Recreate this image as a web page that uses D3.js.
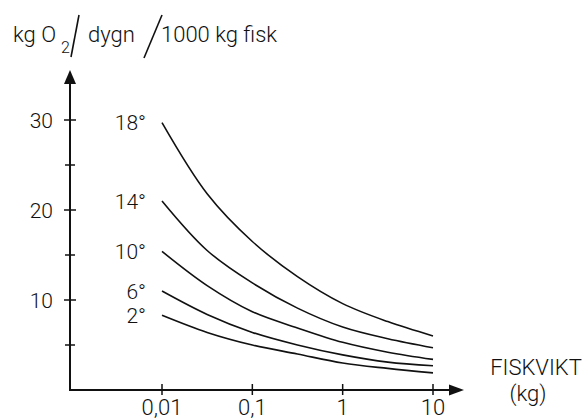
<!DOCTYPE html>
<html>
<head>
<meta charset="utf-8">
<script src="https://cdn.jsdelivr.net/npm/d3@7"></script>
<style>
html,body{margin:0;padding:0;background:#fff;}
svg text{font-family:Roboto,"DejaVu Sans Condensed",sans-serif;font-weight:300;fill:#111;}
</style>
</head>
<body>
<svg id="chart" width="586" height="419"></svg>
<script>
// Fish weight (kg), log axis
const weights = [0.01, 0.0316, 0.1, 0.316, 1, 3.16, 10];
const temps = ["18°", "14°", "10°", "6°", "2°"];
const o2_18 = [29.7, 21.8, 16.5, 12.6, 9.6, 7.6, 6.0];
const o2_14 = [21.0, 15.5, 11.9, 9.1, 7.0, 5.7, 4.7];
const o2_10 = [15.4, 11.6, 8.7, 6.9, 5.3, 4.2, 3.4];
const o2_6  = [11.0, 8.4, 6.4, 5.0, 3.9, 3.1, 2.7];
const o2_2  = [8.3, 6.4, 5.0, 4.0, 3.0, 2.4, 1.9];
const seriesValues = [o2_18, o2_14, o2_10, o2_6, o2_2];
const xTickValues = [0.01, 0.1, 1, 10];
const xTickLabels = ["0,01", "0,1", "1", "10"];
const yMajorTicks = [10, 20, 30];
const yMinorTicks = [5, 15, 25];
const yTitleParts = ["kg O", "2", "dygn", "1000 kg fisk"];
const xTitleLines = ["FISKVIKT", "(kg)"];

const svg = d3.select("#chart");
const ink = "#111";

const x = d3.scaleLog().domain([0.01, 10]).range([162, 433]);
const y = d3.scaleLinear().domain([0, 30]).range([390, 120]);
const x0 = 70, y0 = y(0);

// axes lines
svg.append("line").attr("x1", x0).attr("y1", y0).attr("x2", x0).attr("y2", 80)
  .attr("stroke", ink).attr("stroke-width", 2);
svg.append("line").attr("x1", x0 - 1).attr("y1", y0).attr("x2", 452).attr("y2", y0)
  .attr("stroke", ink).attr("stroke-width", 2.2);
// arrow heads
svg.append("path").attr("d", `M${x0},70 L${x0 - 6},84 L${x0 + 6},84 Z`).attr("fill", ink);
svg.append("path").attr("d", `M464,${y0} L449,${y0 - 5.5} L449,${y0 + 5.5} Z`).attr("fill", ink);

// y ticks
svg.selectAll(".ymaj").data(yMajorTicks).join("line")
  .attr("x1", x0 - 6).attr("x2", x0 + 6)
  .attr("y1", d => y(d)).attr("y2", d => y(d))
  .attr("stroke", ink).attr("stroke-width", 1.5);
svg.selectAll(".ymin").data(yMinorTicks).join("line")
  .attr("x1", x0 - 5).attr("x2", x0 + 5)
  .attr("y1", d => y(d)).attr("y2", d => y(d))
  .attr("stroke", ink).attr("stroke-width", 1.5);
svg.selectAll(".ylab").data(yMajorTicks).join("text")
  .attr("x", 53).attr("y", d => y(d)).attr("dy", "0.36em")
  .attr("text-anchor", "end").attr("font-size", 21)
  .text(d => d);

// x ticks
svg.selectAll(".xt").data(xTickValues).join("line")
  .attr("x1", d => x(d)).attr("x2", d => x(d))
  .attr("y1", y0 - 6).attr("y2", y0 + 5)
  .attr("stroke", ink).attr("stroke-width", 1.5);
svg.selectAll(".xlab").data(xTickValues).join("text")
  .attr("x", d => x(d)).attr("y", 415)
  .attr("text-anchor", "middle").attr("font-size", 22)
  .text((d, i) => xTickLabels[i]);

// curves
const line = d3.line().x((d, i) => x(weights[i])).y(d => y(d)).curve(d3.curveCatmullRom.alpha(0.5));
svg.selectAll(".curve").data(seriesValues).join("path")
  .attr("d", d => line(d)).attr("fill", "none")
  .attr("stroke", ink).attr("stroke-width", 1.6);

// curve labels
svg.selectAll(".clab").data(seriesValues).join("text")
  .attr("x", 146).attr("y", d => y(d[0]))
  .attr("dy", "0.36em").attr("text-anchor", "end").attr("font-size", 21)
  .text((d, i) => temps[i]);

// y title
const t = svg.append("g");
t.append("text").attr("x", 13).attr("y", 42).attr("font-size", 22).text(yTitleParts[0]);
t.append("text").attr("x", 61).attr("y", 53).attr("font-size", 16).text(yTitleParts[1]);
t.append("line").attr("x1", 79).attr("y1", 15).attr("x2", 71).attr("y2", 57)
  .attr("stroke", ink).attr("stroke-width", 1.6);
t.append("text").attr("x", 88).attr("y", 42).attr("font-size", 22).text(yTitleParts[2]);
t.append("line").attr("x1", 162).attr("y1", 15).attr("x2", 144).attr("y2", 58)
  .attr("stroke", ink).attr("stroke-width", 1.6);
t.append("text").attr("x", 161).attr("y", 42).attr("font-size", 22).text(yTitleParts[3]);

// x title
svg.append("text").attr("x", 536).attr("y", 375).attr("text-anchor", "middle")
  .attr("font-size", 22).text(xTitleLines[0]);
svg.append("text").attr("x", 528).attr("y", 401).attr("text-anchor", "middle")
  .attr("font-size", 22).text(xTitleLines[1]);
</script>
</body>
</html>
